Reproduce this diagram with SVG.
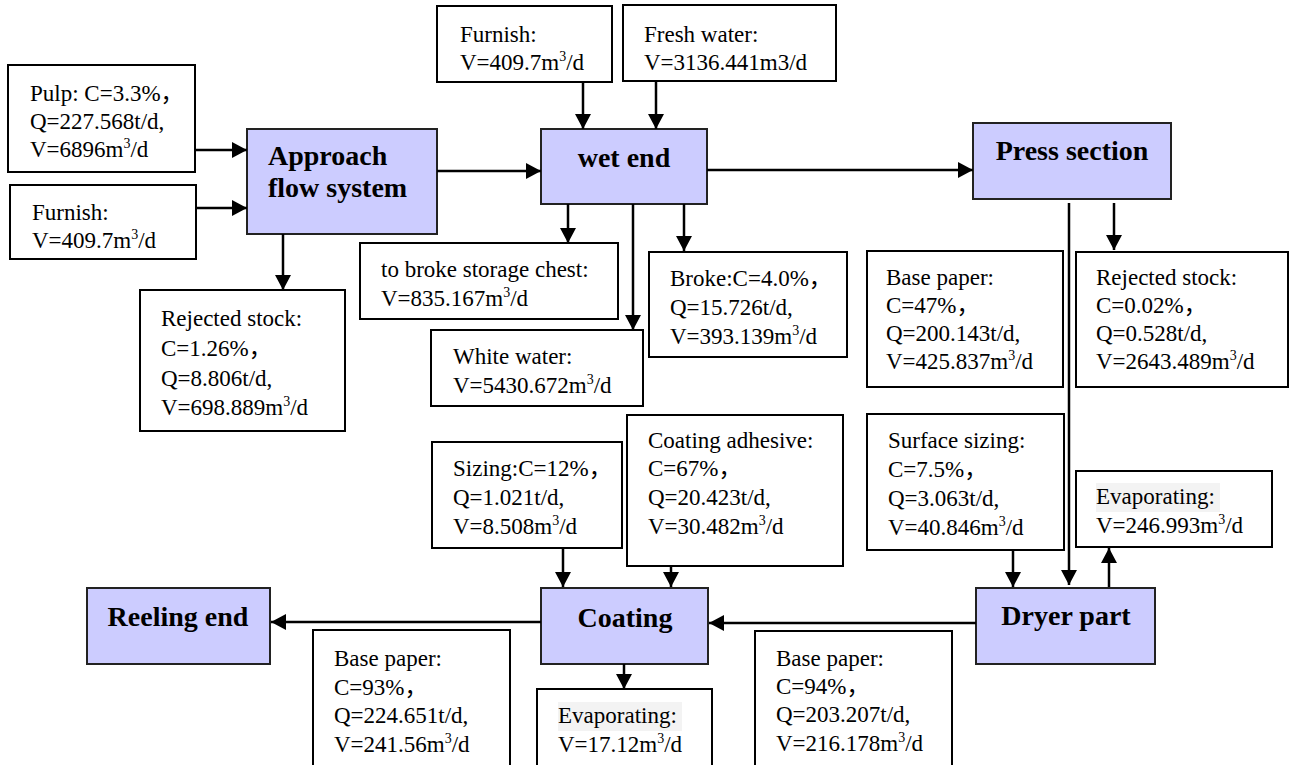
<svg xmlns="http://www.w3.org/2000/svg" width="1295" height="765" viewBox="0 0 1295 765">
<style>
.box{fill:#fff;stroke:#000;stroke-width:2}
.proc{fill:#ccccff;stroke:#222;stroke-width:2}
.t{font-family:"Liberation Serif","Noto Sans CJK SC",serif;font-size:23px;fill:#000}
.b{font-family:"Liberation Serif",serif;font-size:28px;font-weight:bold;fill:#000;text-anchor:middle}
.sup{font-size:14px}
.hl{fill:#f3f3f3}
.c{stroke:#000;stroke-width:2.5;fill:none;marker-end:url(#ah)}
</style>
<defs>
<marker id="ah" markerUnits="userSpaceOnUse" markerWidth="16" markerHeight="16" refX="15" refY="8" orient="auto">
<path d="M0,0 L15,8 L0,16 z" fill="#000"/>
</marker>
</defs>
<rect width="1295" height="765" fill="#fff"/>

<g id="pulp">
<rect class="box" x="8" y="65" width="187" height="107"/>
<text class="t" x="30" y="101">Pulp: C=3.3%，</text>
<text class="t" x="30" y="129">Q=227.568t/d,</text>
<text class="t" x="30" y="157">V=6896m<tspan class="sup" dy="-9">3</tspan><tspan dy="9">/d</tspan></text>
</g>
<g id="furnish-left">
<rect class="box" x="10" y="185" width="186" height="74"/>
<text class="t" x="32" y="220">Furnish:</text>
<text class="t" x="32" y="248">V=409.7m<tspan class="sup" dy="-9">3</tspan><tspan dy="9">/d</tspan></text>
</g>
<g id="approach">
<rect class="proc" x="247" y="129" width="190" height="105"/>
<text class="b" x="268" y="165" style="text-anchor:start">Approach</text>
<text class="b" x="268" y="197" style="text-anchor:start">flow system</text>
</g>
<g id="rejected-left">
<rect class="box" x="140" y="290" width="205" height="141"/>
<text class="t" x="161" y="326">Rejected stock:</text>
<text class="t" x="161" y="356">C=1.26%，</text>
<text class="t" x="161" y="386">Q=8.806t/d,</text>
<text class="t" x="161" y="415">V=698.889m<tspan class="sup" dy="-9">3</tspan><tspan dy="9">/d</tspan></text>
</g>
<g id="furnish-top">
<rect class="box" x="437" y="6" width="175" height="76"/>
<text class="t" x="460" y="42">Furnish:</text>
<text class="t" x="460" y="70">V=409.7m<tspan class="sup" dy="-9">3</tspan><tspan dy="9">/d</tspan></text>
</g>
<g id="fresh-water">
<rect class="box" x="623" y="5" width="213" height="76"/>
<text class="t" x="644" y="42">Fresh water:</text>
<text class="t" x="644" y="70">V=3136.441m3/d</text>
</g>
<g id="wet-end">
<rect class="proc" x="541" y="129" width="166" height="75"/>
<text class="b" x="624" y="167">wet end</text>
</g>
<g id="broke-storage">
<rect class="box" x="360" y="243" width="258" height="76"/>
<text class="t" x="381" y="277">to broke storage chest:</text>
<text class="t" x="381" y="306">V=835.167m<tspan class="sup" dy="-9">3</tspan><tspan dy="9">/d</tspan></text>
</g>
<g id="white-water">
<rect class="box" x="431" y="330" width="212" height="76"/>
<text class="t" x="453" y="364">White water:</text>
<text class="t" x="453" y="393">V=5430.672m<tspan class="sup" dy="-9">3</tspan><tspan dy="9">/d</tspan></text>
</g>
<g id="broke">
<rect class="box" x="649" y="252" width="198" height="105"/>
<text class="t" x="670" y="286">Broke:C=4.0%，</text>
<text class="t" x="670" y="315">Q=15.726t/d,</text>
<text class="t" x="670" y="344">V=393.139m<tspan class="sup" dy="-9">3</tspan><tspan dy="9">/d</tspan></text>
</g>
<g id="press">
<rect class="proc" x="973" y="123" width="198" height="76"/>
<text class="b" x="1072" y="160">Press section</text>
</g>
<g id="base-paper-press">
<rect class="box" x="867" y="251" width="196" height="136"/>
<text class="t" x="886" y="285">Base paper:</text>
<text class="t" x="886" y="313">C=47%，</text>
<text class="t" x="886" y="341">Q=200.143t/d,</text>
<text class="t" x="886" y="369">V=425.837m<tspan class="sup" dy="-9">3</tspan><tspan dy="9">/d</tspan></text>
</g>
<g id="rejected-right">
<rect class="box" x="1076" y="252" width="212" height="135"/>
<text class="t" x="1096" y="285">Rejected stock:</text>
<text class="t" x="1096" y="313">C=0.02%，</text>
<text class="t" x="1096" y="341">Q=0.528t/d,</text>
<text class="t" x="1096" y="369">V=2643.489m<tspan class="sup" dy="-9">3</tspan><tspan dy="9">/d</tspan></text>
</g>
<g id="sizing">
<rect class="box" x="432" y="442" width="190" height="106"/>
<text class="t" x="453" y="476">Sizing:C=12%，</text>
<text class="t" x="453" y="505">Q=1.021t/d,</text>
<text class="t" x="453" y="534">V=8.508m<tspan class="sup" dy="-9">3</tspan><tspan dy="9">/d</tspan></text>
</g>
<g id="adhesive">
<rect class="box" x="627" y="415" width="216" height="151"/>
<text class="t" x="648" y="448">Coating adhesive:</text>
<text class="t" x="648" y="476">C=67%，</text>
<text class="t" x="648" y="505">Q=20.423t/d,</text>
<text class="t" x="648" y="534">V=30.482m<tspan class="sup" dy="-9">3</tspan><tspan dy="9">/d</tspan></text>
</g>
<g id="surface-sizing">
<rect class="box" x="867" y="414" width="197" height="136"/>
<text class="t" x="888" y="448">Surface sizing:</text>
<text class="t" x="888" y="477">C=7.5%，</text>
<text class="t" x="888" y="506">Q=3.063t/d,</text>
<text class="t" x="888" y="535">V=40.846m<tspan class="sup" dy="-9">3</tspan><tspan dy="9">/d</tspan></text>
</g>
<g id="evap-dryer">
<rect class="box" x="1076" y="471" width="196" height="76"/>
<rect class="hl" x="1096" y="483" width="124" height="29"/>
<text class="t" x="1096" y="504">Evaporating:</text>
<text class="t" x="1096" y="533">V=246.993m<tspan class="sup" dy="-9">3</tspan><tspan dy="9">/d</tspan></text>
</g>
<g id="dryer">
<rect class="proc" x="976" y="588" width="179" height="76"/>
<text class="b" x="1066" y="625">Dryer part</text>
</g>
<g id="coating">
<rect class="proc" x="541" y="588" width="167" height="76"/>
<text class="b" x="625" y="627">Coating</text>
</g>
<g id="reeling">
<rect class="proc" x="87" y="588" width="183" height="76"/>
<text class="b" x="178" y="626">Reeling end</text>
</g>
<g id="base-paper-coating">
<rect class="box" x="313" y="630" width="197" height="150"/>
<text class="t" x="334" y="666">Base paper:</text>
<text class="t" x="334" y="695">C=93%，</text>
<text class="t" x="334" y="723">Q=224.651t/d,</text>
<text class="t" x="334" y="752">V=241.56m<tspan class="sup" dy="-9">3</tspan><tspan dy="9">/d</tspan></text>
</g>
<g id="evap-coating">
<rect class="box" x="537" y="689" width="175" height="90"/>
<rect class="hl" x="558" y="702" width="124" height="29"/>
<text class="t" x="558" y="723">Evaporating:</text>
<text class="t" x="558" y="752">V=17.12m<tspan class="sup" dy="-9">3</tspan><tspan dy="9">/d</tspan></text>
</g>
<g id="base-paper-dryer">
<rect class="box" x="755" y="631" width="197" height="150"/>
<text class="t" x="776" y="666">Base paper:</text>
<text class="t" x="776" y="694">C=94%，</text>
<text class="t" x="776" y="722">Q=203.207t/d,</text>
<text class="t" x="776" y="751">V=216.178m<tspan class="sup" dy="-9">3</tspan><tspan dy="9">/d</tspan></text>
</g>

<g id="connectors">
<path class="c" d="M196,150 H247"/>
<path class="c" d="M196,208 H247"/>
<path class="c" d="M283,234 V290"/>
<path class="c" d="M437,171 H541"/>
<path class="c" d="M583,82 V129"/>
<path class="c" d="M656,81 V129"/>
<path class="c" d="M568,204 V243"/>
<path class="c" d="M633,204 V330"/>
<path class="c" d="M684,204 V251"/>
<path class="c" d="M707,170 H973"/>
<path class="c" d="M1114,203 V250"/>
<path class="c" d="M1069,203 V585"/>
<path class="c" d="M1013,550 V587"/>
<path class="c" d="M1109,587 V548"/>
<path class="c" d="M976,623 H709"/>
<path class="c" d="M563,548 V587"/>
<path class="c" d="M671,566 V587"/>
<path class="c" d="M624,664 V689"/>
<path class="c" d="M541,622 H271"/>
</g>
</svg>
